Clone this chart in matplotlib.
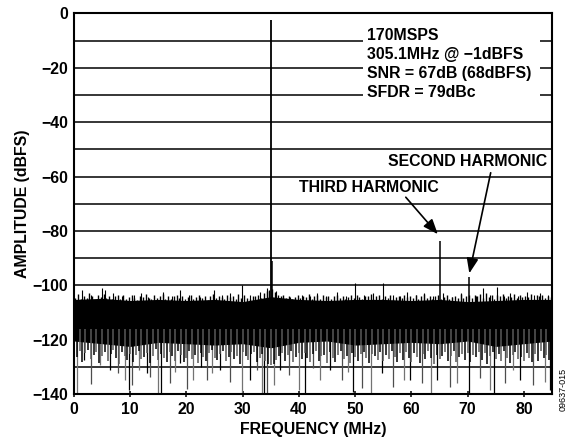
import matplotlib
matplotlib.use("Agg")
import numpy as np
import matplotlib.pyplot as plt
from matplotlib.patches import Rectangle

plt.rcParams["font.family"] = ["Liberation Sans", "DejaVu Sans"]
plt.rcParams["font.weight"] = "bold"
plt.rcParams["axes.labelweight"] = "bold"

# fundamental, harmonics and spurs (MHz, dBFS)
fund_freq = 35.0
fund_db = -2.5
spur_freq = [35.15, 65.1, 70.2]
spur_db = [-91.0, -83.6, -96.8]

# noise floor solid band, read every 5 MHz
env_freq = [0, 5, 10, 15, 20, 25, 30, 35, 40, 45, 50, 55, 60, 65, 70, 75, 80, 85]
core_top = [-105.2, -104.8, -105.6, -105.2, -105.6, -105.2, -106, -104.2, -105.2,
            -105.6, -105.2, -105.2, -105.6, -105.2, -106, -105.6, -105.2, -105.2]
core_bot = [-120.5, -121.5, -122.5, -121, -121.5, -122, -121.5, -123, -121, -120.5,
            -122, -121.5, -121, -121.5, -120.5, -122.5, -121.5, -120.5]

# ragged edge of the floor, one reading per half MHz bin
top_tips = [
    -104.5, -103.2, -105.1, -103.8, -104.6, -102.9, -104.1, -105.3, -103.5, -104.4,
    -103.1, -104.8, -103.9, -105.2, -104.0, -103.4, -104.9, -103.7, -105.0, -104.2,
    -103.6, -104.7, -105.4, -103.9, -104.3, -103.2, -104.8, -105.1, -103.7, -104.5,
    -104.1, -103.3, -104.9, -103.8, -105.2, -104.0, -103.5, -104.6, -103.9, -105.0,
    -104.3, -103.6, -105.1, -104.2, -103.4, -104.8, -103.9, -105.3, -104.1, -103.2,
    -104.7, -103.8, -104.4, -105.0, -103.5, -104.2, -103.9, -104.9, -103.3, -104.6,
    -103.7, -104.5, -105.2, -103.9, -104.1, -103.4, -104.8, -102.8, -102.1, -101.6,
    -101.2, -102.5, -103.4, -104.0, -103.6, -104.7, -103.9, -105.0, -104.3, -103.6,
    -104.8, -103.9, -104.4, -103.2, -105.1, -104.0, -103.7, -104.9, -103.5, -104.3,
    -103.8, -105.2, -104.1, -103.4, -104.6, -103.9, -105.0, -104.2, -103.6, -104.7,
    -103.5, -104.4, -105.1, -103.8, -104.0, -103.3, -104.9, -104.1, -103.7, -105.0,
    -103.9, -104.6, -103.4, -105.2, -104.3, -103.8, -104.8, -103.5, -104.2, -103.9,
    -104.7, -103.6, -105.0, -104.1, -103.3, -104.5, -103.9, -105.2, -104.0, -103.7,
    -104.9, -104.2, -103.5, -105.1, -104.4, -103.8, -104.6, -103.2, -104.8, -103.9,
    -103.4, -104.7, -103.6, -104.1, -103.3, -104.5, -103.0, -104.2, -103.7, -104.9,
    -103.5, -104.0, -103.2, -104.6, -103.9, -104.3, -103.1, -104.8, -103.6, -104.2,
    -103.8, -104.4, -103.3, -104.9, -103.6, -104.1, -103.4, -104.7, -103.9, -104.3,
]
bot_tips = [
    -126.5, -124.2, -128.1, -125.0, -123.8, -127.3, -125.6, -124.4, -128.5, -126.0,
    -124.7, -127.8, -125.3, -123.9, -126.8, -128.9, -124.6, -126.2, -127.5, -125.1,
    -128.3, -125.7, -124.1, -127.0, -126.4, -124.8, -128.7, -125.9, -123.6, -127.4,
    -125.2, -126.9, -128.4, -124.5, -126.1, -127.7, -124.0, -125.8, -128.2, -126.6,
    -124.3, -127.1, -125.5, -128.6, -124.9, -126.3, -127.9, -125.0, -123.7, -126.7,
    -127.6, -125.4, -124.2, -128.0, -126.5, -124.7, -127.2, -125.9, -128.8, -124.4,
    -126.0, -127.5, -125.1, -124.6, -128.3, -126.8, -125.3, -127.9, -128.9, -129.5,
    -129.0, -127.4, -126.2, -124.8, -127.7, -125.6, -124.3, -128.1, -126.4, -125.0,
    -127.3, -124.9, -126.6, -128.4, -125.2, -124.1, -127.8, -126.0, -125.5, -128.6,
    -124.6, -126.9, -128.2, -125.7, -124.0, -127.1, -125.9, -128.7, -124.8, -126.3,
    -127.9, -125.3, -124.4, -126.8, -128.5, -125.1, -126.2, -127.6, -124.7, -128.0,
    -125.8, -127.2, -124.3, -126.5, -128.1, -125.0, -127.4, -124.6, -126.9, -128.3,
    -124.9, -126.4, -128.6, -125.4, -127.0, -124.2, -126.7, -128.8, -125.6, -127.3,
    -126.1, -124.5, -127.8, -125.9, -124.0, -128.2, -126.5, -125.2, -127.6, -124.8,
    -128.4, -125.7, -126.3, -124.4, -127.5, -125.0, -128.9, -126.0, -124.6, -127.1,
    -125.3, -127.9, -124.1, -126.8, -128.5, -125.5, -124.7, -127.2, -126.4, -128.0,
    -124.8, -126.6, -128.3, -125.1, -127.7, -124.3, -126.9, -125.8, -127.4, -124.9,
]
bin_width = 0.5

# taller noise spikes above the floor
up_f = [1.4, 3.0, 4.9, 5.5, 7.0, 8.6, 10.6, 12.0, 13.2, 15.9, 17.5, 18.9, 20.5,
        22.4, 24.9, 26.3, 27.8, 29.8, 31.3, 33.0, 34.4, 36.0, 38.4, 40.5, 42.0,
        43.2, 44.8, 46.7, 48.3, 50.0, 51.5, 53.2, 55.0, 56.8, 58.0, 59.2, 60.8,
        62.2, 63.8, 65.7, 67.3, 68.8, 71.5, 72.8, 74.0, 75.2, 76.5, 77.6, 79.0,
        80.5, 81.8, 82.9, 84.3]
up_db = [-101.7, -103.5, -101.0, -101.7, -103.0, -104.0, -103.6, -103.0, -104.2,
         -102.4, -103.8, -101.9, -103.5, -104.2, -101.8, -103.5, -103.0, -100.0,
         -103.6, -102.5, -101.0, -102.0, -104.2, -103.5, -104.0, -103.0, -103.8,
         -102.4, -104.0, -99.3, -103.5, -103.0, -99.0, -103.6, -104.0, -102.4,
         -103.6, -103.0, -104.0, -103.0, -104.2, -103.0, -103.8, -101.1, -103.5,
         -100.5, -103.8, -103.0, -104.0, -102.4, -103.6, -103.0, -103.5]

# deeper noise spikes below the floor
dn_f = [0.5, 1.7, 3.1, 4.6, 6.4, 7.9, 9.1, 9.7, 10.3, 11.5, 12.9, 13.5, 14.9,
        15.4, 17.1, 18.0, 18.9, 20.1, 21.2, 22.5, 23.6, 24.5, 26.0, 27.8, 29.8,
        31.3, 32.5, 33.4, 33.8, 34.3, 35.5, 36.7, 38.2, 40.0, 41.1, 42.5, 43.8,
        45.6, 47.6, 48.7, 49.7, 51.2, 52.9, 54.7, 56.8, 58.6, 59.8, 61.9, 63.4,
        64.5, 66.9, 68.1, 70.2, 72.2, 74.0, 74.6, 76.7, 78.0, 79.4, 81.7, 83.7,
        84.6]
dn_db = [-139.5, -127.5, -136.5, -129.3, -131.2, -132.4, -134.7, -138.5, -136.7,
         -131.2, -132.4, -133.6, -139.5, -139.5, -136.0, -131.8, -128.7, -138.0,
         -134.8, -130.0, -134.8, -132.4, -131.2, -135.5, -139.5, -134.8, -131.0,
         -139.7, -139.7, -139.7, -136.7, -131.2, -133.0, -138.5, -139.7, -130.5,
         -134.8, -131.2, -134.8, -132.0, -139.1, -137.9, -139.7, -132.4, -137.3,
         -134.8, -134.8, -136.0, -139.7, -134.8, -137.3, -136.0, -139.7, -134.2,
         -138.5, -139.7, -136.0, -131.0, -134.8, -136.7, -135.5, -138.5]

info_lines = ["170MSPS", "305.1MHz @ \u22121dBFS", "SNR = 67dB (68dBFS)", "SFDR = 79dBc"]

fs = 11.4
fig = plt.figure(figsize=(5.71, 4.45), dpi=100)
ax = fig.add_axes([0.1296, 0.1146, 0.8371, 0.8551])

ax.set_xlim(0, 85)
ax.set_ylim(-140, 0)
ax.set_xticks(range(0, 81, 10))
ax.set_yticks(range(-140, 1, 20))
ax.set_yticks(range(-130, 0, 20), minor=True)
ax.set_yticklabels([str(v).replace("-", "\u2212") for v in range(-140, 1, 20)])
ax.grid(True, axis="y", which="both", color="black", lw=1.1, zorder=1)
ax.tick_params(axis="y", which="both", length=0, pad=4, labelsize=fs)
ax.tick_params(axis="x", direction="inout", length=5, width=1.1, pad=3, labelsize=fs)
for s in ax.spines.values():
    s.set_linewidth(1.5)
    s.set_zorder(5)

# noise floor
top_f = np.arange(len(top_tips)) * bin_width + 0.25
bot_f = np.arange(len(bot_tips)) * bin_width + 0.5
ax.fill_between(env_freq, core_top, core_bot, color="black", lw=0, zorder=3)
ax.vlines(top_f, -110, top_tips, color="black", lw=1.0, zorder=3)
ax.vlines(bot_f, -116, bot_tips, color=["black", "0.35"], lw=1.1, zorder=3)
ax.vlines(up_f, -112, up_db, color="black", lw=0.8, zorder=3)
ax.vlines(dn_f, -118, dn_db, color=["0.45", "black", "0.3"], lw=0.9, zorder=2)

# tones
ax.vlines([fund_freq], -110, [fund_db], color="black", lw=1.3, zorder=4)
ax.vlines(spur_freq, -110, spur_db, color="black", lw=1.1, zorder=4)

# info box
ax.add_patch(Rectangle((0.605, 0.752), 0.37, 0.218, transform=ax.transAxes,
                       facecolor="white", edgecolor="none", zorder=2))
for i, line in enumerate(info_lines):
    ax.text(0.614, 0.943 - i * 0.0505, line, transform=ax.transAxes,
            fontsize=fs, ha="left", va="center", zorder=4)

# harmonic labels
ax.text(40.0, -64.2, "THIRD HARMONIC", fontsize=fs, ha="left", va="center", zorder=4)
ax.text(55.9, -54.6, "SECOND HARMONIC", fontsize=fs, ha="left", va="center", zorder=4)
arrow = dict(arrowstyle="-|>,head_length=0.9,head_width=0.35", color="black",
             lw=1.2, shrinkA=0, shrinkB=0)
ax.annotate("", xy=(64.7, -81.2), xytext=(59.0, -67.6), arrowprops=arrow, zorder=4)
ax.annotate("", xy=(70.3, -95.6), xytext=(74.1, -58.6), arrowprops=arrow, zorder=4)

ax.set_xlabel("FREQUENCY (MHz)", fontsize=fs, labelpad=4)
ax.set_ylabel("AMPLITUDE (dBFS)", fontsize=fs, labelpad=2)

fig.text(0.987, 0.125, "09637-015", rotation=90, fontsize=6.5, fontweight="normal",
         ha="center", va="center")

fig.savefig("out.png", dpi=100)
